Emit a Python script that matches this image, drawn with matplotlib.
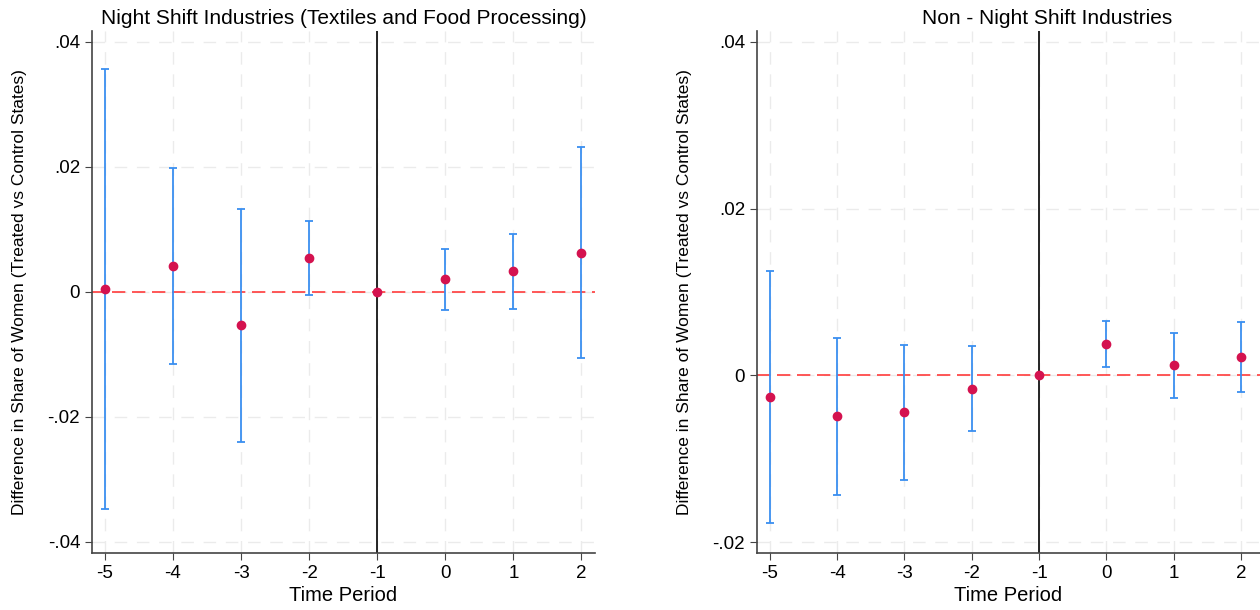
import matplotlib
matplotlib.use('Agg')
import matplotlib.pyplot as plt
from matplotlib.ticker import FuncFormatter

# event-study estimates
periods = [-5, -4, -3, -2, -1, 0, 1, 2]

night_coef = [0.0004, 0.0041, -0.0054, 0.0054, 0.0, 0.0020, 0.0033, 0.0062]
night_lo = [-0.0348, -0.0115, -0.0241, -0.0005, 0.0, -0.0029, -0.0028, -0.0106]
night_hi = [0.0356, 0.0198, 0.0133, 0.0113, 0.0, 0.0069, 0.0093, 0.0231]

non_coef = [-0.0026, -0.0049, -0.0044, -0.0016, 0.0, 0.0038, 0.0012, 0.0022]
non_lo = [-0.0177, -0.0143, -0.0126, -0.0067, 0.0, 0.0010, -0.0027, -0.0020]
non_hi = [0.0125, 0.0045, 0.0037, 0.0035, 0.0, 0.0065, 0.0051, 0.0064]

titles = ['Night Shift Industries (Textiles and Food Processing)',
          'Non - Night Shift Industries']
ylabel = 'Difference in Share of Women (Treated vs Control States)'

plt.rcParams['font.family'] = ['Liberation Sans', 'DejaVu Sans']
plt.rcParams['axes.unicode_minus'] = False

fig = plt.figure(figsize=(12.6, 6.1), dpi=100)
ax1 = fig.add_axes([92 / 1260, 57 / 610, 503 / 1260, 522 / 610])
ax2 = fig.add_axes([757 / 1260, 57 / 610, 503 / 1260, 522 / 610])


def fmt(v, pos):
    if abs(v) < 1e-9:
        return '0'
    s = f'{v:.2f}'
    return s.replace('0.', '.')


def draw(ax, coef, lo, hi, title, ylim, yticks, xlim, title_x):
    ax.grid(True, color='#ebebeb', linestyle=(0, (9, 7)), linewidth=1.0)
    ax.set_axisbelow(True)
    ax.axhline(0, color='#ff3b3b', linestyle=(0, (8, 4)), linewidth=1.2, zorder=1)
    ax.axvline(-1, color='black', linewidth=1.2, zorder=1)
    err = [[c - l for c, l in zip(coef, lo)], [h - c for c, h in zip(coef, hi)]]
    ax.errorbar(periods, coef, yerr=err, fmt='none', ecolor='#3a8ff0',
                elinewidth=1.3, capsize=3, capthick=1.3, zorder=2)
    ax.plot(periods, coef, 'o', color='#d4124f', markersize=6, zorder=3)
    ax.set_xlim(*xlim)
    ax.set_ylim(*ylim)
    ax.set_xticks(periods)
    ax.set_yticks(yticks)
    ax.yaxis.set_major_formatter(FuncFormatter(fmt))
    ax.tick_params(labelsize=13.5, color='#444444', length=5)
    ax.set_xlabel('Time Period', fontsize=14.5, labelpad=3)
    ax.set_ylabel(ylabel, fontsize=12.5, labelpad=15)
    ax.set_title(title, fontsize=15, x=title_x, pad=5)
    for s in ['top', 'right']:
        ax.spines[s].set_visible(False)
    for s in ['left', 'bottom']:
        ax.spines[s].set_color('#444444')
        ax.spines[s].set_linewidth(1.2)


draw(ax1, night_coef, night_lo, night_hi, titles[0], (-0.0418, 0.0417),
     [-0.04, -0.02, 0, 0.02, 0.04], (-5.19, 2.2), 0.5)
draw(ax2, non_coef, non_lo, non_hi, titles[1], (-0.0213, 0.0413),
     [-0.02, 0, 0.02, 0.04], (-5.19, 2.28), 0.577)

fig.savefig('out.png', dpi=100)
